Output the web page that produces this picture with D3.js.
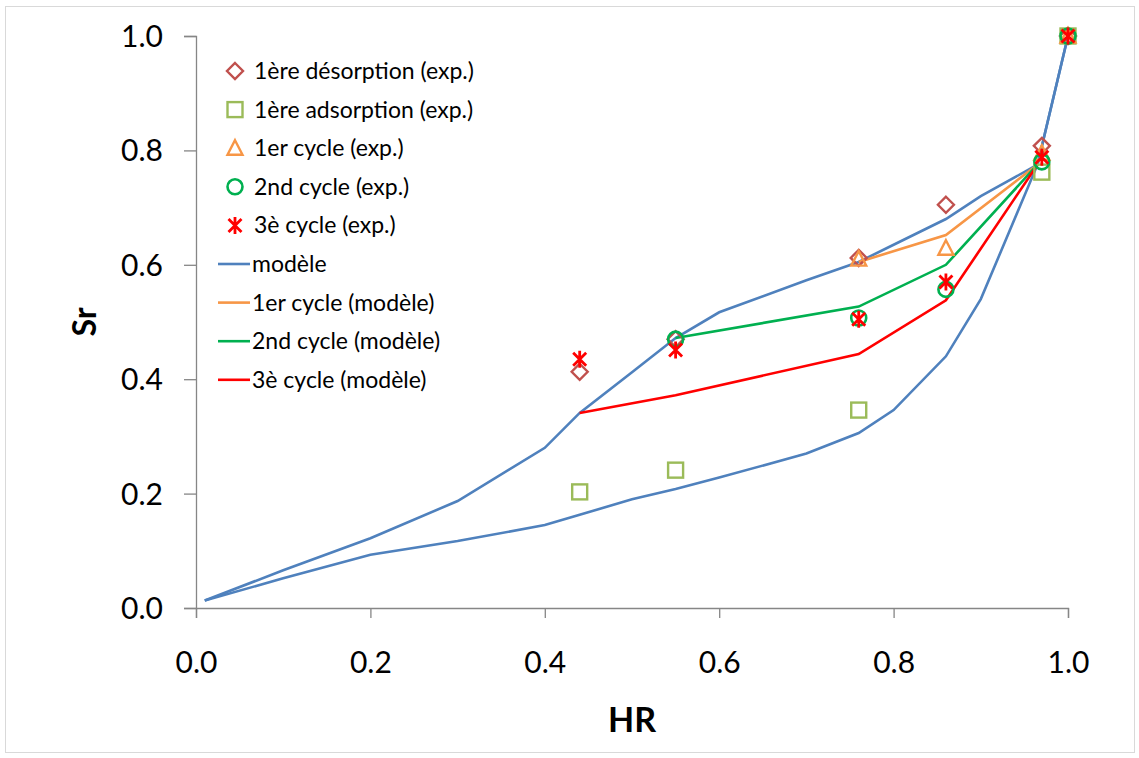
<!DOCTYPE html>
<html><head><meta charset="utf-8">
<script src="https://cdn.jsdelivr.net/npm/d3@7"></script>
<style>body{margin:0;background:#fff}svg{display:block}text{font-family:Lato,"Open Sans",sans-serif}</style>
</head><body>
<script>
// ---- data ----
const xTicks = [0.0, 0.2, 0.4, 0.6, 0.8, 1.0];
const yTicks = [0.0, 0.2, 0.4, 0.6, 0.8, 1.0];
// blue model: adsorption (lower) branch then desorption (upper) branch
const modelAdsHR = [0.01, 0.1, 0.2, 0.3, 0.4, 0.44, 0.5, 0.55, 0.6, 0.7, 0.76, 0.8, 0.86, 0.9, 0.965, 1.0];
const modelAdsSr = [0.013, 0.052, 0.093, 0.117, 0.145, 0.163, 0.19, 0.208, 0.228, 0.27, 0.306, 0.346, 0.44, 0.54, 0.775, 1.0];
const modelDesHR = [1.0, 0.965, 0.9, 0.86, 0.8, 0.76, 0.7, 0.6, 0.55, 0.5, 0.44, 0.4, 0.3, 0.2, 0.1, 0.01];
const modelDesSr = [1.0, 0.775, 0.72, 0.68, 0.635, 0.605, 0.573, 0.517, 0.472, 0.412, 0.341, 0.28, 0.187, 0.122, 0.066, 0.013];
const cyc1HR = [0.76, 0.86, 0.965];
const cyc1Sr = [0.605, 0.652, 0.775];
const cyc2HR = [0.55, 0.76, 0.86, 0.965];
const cyc2Sr = [0.472, 0.527, 0.6, 0.775];
const cyc3HR = [0.44, 0.55, 0.76, 0.86, 0.965];
const cyc3Sr = [0.341, 0.372, 0.444, 0.538, 0.775];
// experimental
const desExpHR = [0.44, 0.55, 0.76, 0.86, 0.97, 1.0];
const desExpSr = [0.413, 0.47, 0.612, 0.705, 0.808, 1.0];
const adsExpHR = [0.44, 0.55, 0.76, 0.97, 1.0];
const adsExpSr = [0.203, 0.241, 0.346, 0.762, 1.0];
const c1ExpHR = [0.76, 0.86, 0.97, 1.0];
const c1ExpSr = [0.61, 0.629, 0.795, 1.0];
const c2ExpHR = [0.55, 0.76, 0.86, 0.97, 1.0];
const c2ExpSr = [0.47, 0.507, 0.557, 0.78, 1.0];
const c3ExpHR = [0.44, 0.55, 0.76, 0.86, 0.97, 1.0];
const c3ExpSr = [0.435, 0.451, 0.505, 0.57, 0.788, 1.0];
const legendLabels = ["1ère désorption (exp.)", "1ère adsorption (exp.)", "1er cycle (exp.)", "2nd cycle (exp.)", "3è cycle (exp.)", "modèle", "1er cycle (modèle)", "2nd cycle (modèle)", "3è cycle (modèle)"];

const W = 1139, H = 758;
const svg = d3.select("body").append("svg").attr("width", W).attr("height", H);
svg.append("rect").attr("x", 5.5).attr("y", 6.5).attr("width", 1129).attr("height", 746)
  .attr("fill", "#fff").attr("stroke", "#d9d9d9").attr("stroke-width", 1);

const x = d3.scaleLinear().domain([0, 1]).range([196, 1068]);
const y = d3.scaleLinear().domain([0, 1]).range([608, 36]);
const axisColor = "#868686";

const gx = svg.append("g").attr("transform", "translate(0,608)")
  .call(d3.axisBottom(x).tickValues(xTicks).tickFormat(d3.format(".1f")).tickSize(10).tickPadding(34));
const gy = svg.append("g").attr("transform", "translate(196,0)")
  .call(d3.axisLeft(y).tickValues(yTicks).tickFormat(d3.format(".1f")).tickSize(12).tickPadding(21));
[gx, gy].forEach(g => {
  g.select(".domain").attr("stroke", axisColor).attr("stroke-width", 1.3);
  g.selectAll(".tick line").attr("stroke", axisColor).attr("stroke-width", 1.3);
  g.selectAll(".tick text").attr("font-size", 30).attr("fill", "#000").attr("font-family", "Lato, sans-serif");
});
gx.selectAll(".tick text").attr("dy", "0.71em");
gy.selectAll(".tick text").attr("dy", "0.35em");

svg.append("text").attr("x", 632).attr("y", 732).attr("text-anchor", "middle")
  .attr("font-size", 34).attr("font-weight", "bold").text("HR");
svg.append("text").attr("transform", "translate(96,322) rotate(-90)").attr("text-anchor", "middle")
  .attr("font-size", 32).attr("font-weight", "bold").text("Sr");

const line = d3.line().x(d => x(d[0])).y(d => y(d[1]));
const zip = (a, b) => a.map((v, i) => [v, b[i]]);
const blue = "#4F81BD", orange = "#F79646", green = "#00B050", red = "#FF0000";
const lw = 2.6;
svg.append("path").attr("d", line(zip(modelAdsHR, modelAdsSr))).attr("fill", "none").attr("stroke", blue).attr("stroke-width", lw);
svg.append("path").attr("d", line(zip(modelDesHR, modelDesSr))).attr("fill", "none").attr("stroke", blue).attr("stroke-width", lw);
svg.append("path").attr("d", line(zip(cyc1HR, cyc1Sr))).attr("fill", "none").attr("stroke", orange).attr("stroke-width", lw);
svg.append("path").attr("d", line(zip(cyc2HR, cyc2Sr))).attr("fill", "none").attr("stroke", green).attr("stroke-width", lw);
svg.append("path").attr("d", line(zip(cyc3HR, cyc3Sr))).attr("fill", "none").attr("stroke", red).attr("stroke-width", lw);

function marker(g, type, cx, cy) {
  if (type === "diamond") {
    g.append("path").attr("d", `M${cx},${cy-8}L${cx+8},${cy}L${cx},${cy+8}L${cx-8},${cy}Z`)
      .attr("fill", "none").attr("stroke", "#C0504D").attr("stroke-width", 2.4);
  } else if (type === "square") {
    g.append("rect").attr("x", cx-7.5).attr("y", cy-7.5).attr("width", 15).attr("height", 15)
      .attr("fill", "none").attr("stroke", "#9BBB59").attr("stroke-width", 2.4);
  } else if (type === "triangle") {
    g.append("path").attr("d", `M${cx},${cy-8}L${cx+7.5},${cy+6.5}L${cx-7.5},${cy+6.5}Z`)
      .attr("fill", "none").attr("stroke", orange).attr("stroke-width", 2.4);
  } else if (type === "circle") {
    g.append("circle").attr("cx", cx).attr("cy", cy).attr("r", 7.5)
      .attr("fill", "none").attr("stroke", green).attr("stroke-width", 2.6);
  } else if (type === "star") {
    g.append("path").attr("d", `M${cx-6.5},${cy-6.5}L${cx+6.5},${cy+6.5}M${cx+6.5},${cy-6.5}L${cx-6.5},${cy+6.5}M${cx},${cy-8.5}L${cx},${cy+8.5}`)
      .attr("fill", "none").attr("stroke", red).attr("stroke-width", 2.8);
  }
}
const expSeries = [
  ["diamond", desExpHR, desExpSr], ["square", adsExpHR, adsExpSr], ["triangle", c1ExpHR, c1ExpSr],
  ["circle", c2ExpHR, c2ExpSr], ["star", c3ExpHR, c3ExpSr]];
const gm = svg.append("g");
expSeries.forEach(([t, hx, sy]) => hx.forEach((v, i) => marker(gm, t, x(v), y(sy[i]))));

// legend
const lg = svg.append("g");
const markerTypes = ["diamond", "square", "triangle", "circle", "star"];
const lineColors = [blue, orange, green, red];
legendLabels.forEach((lab, i) => {
  const ly = 71 + i * 38.6;
  if (i < 5) {
    marker(lg, markerTypes[i], 235, ly);
    lg.append("text").attr("x", 254).attr("y", ly).attr("dy", "0.35em").attr("font-size", 23).text(lab);
  } else {
    lg.append("line").attr("x1", 218).attr("x2", 250).attr("y1", ly).attr("y2", ly)
      .attr("stroke", lineColors[i-5]).attr("stroke-width", lw);
    lg.append("text").attr("x", 252).attr("y", ly).attr("dy", "0.35em").attr("font-size", 23).text(lab);
  }
});
</script>
</body></html>
